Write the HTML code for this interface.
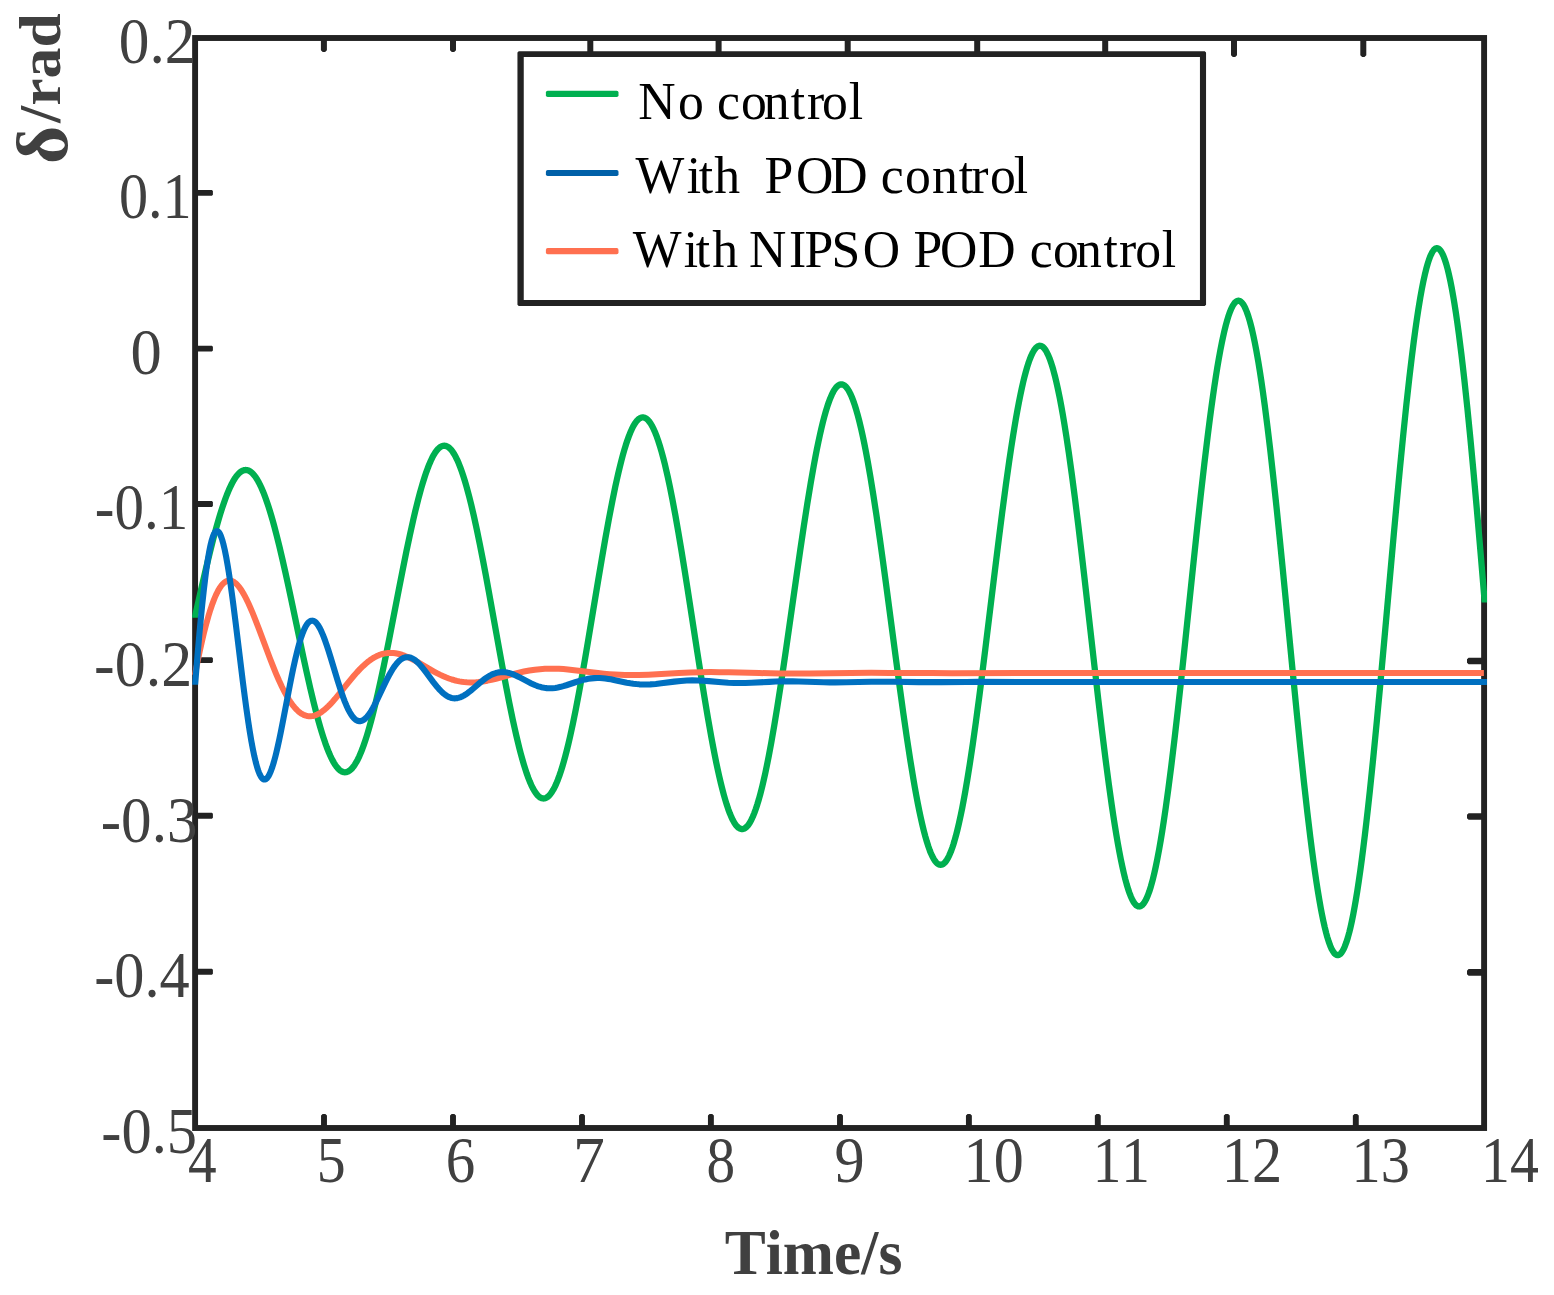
<!DOCTYPE html>
<html lang="en">
<head>
<meta charset="utf-8">
<title>Rotor angle response with and without POD control</title>
<style>
html,body{margin:0;padding:0;background:#fff}
body{width:1554px;height:1295px;overflow:hidden}
svg{display:block}
text{font-family:"Liberation Serif","DejaVu Serif",serif;font-kerning:none;font-variant-ligatures:none}
.tk{font-size:65px;fill:#404040}
.ttl{font-weight:bold;fill:#404040}
.lg{font-size:51.7px;fill:#000;white-space:pre}
</style>
</head>
<body>
<svg width="1554" height="1295" viewBox="0 0 1554 1295">
<rect width="1554" height="1295" fill="#fff"/>
<!-- axes frame -->
<rect x="195.1" y="38" width="1289" height="1090" fill="none" stroke="#222222" stroke-width="5.9"/>
<path fill="#222222" d="M322.65 1113.9L325.35 1113.9L326.95 1115.5L326.95 1128L321.05 1128L321.05 1115.5ZM451.65 1113.9L454.35 1113.9L455.95 1115.5L455.95 1128L450.05 1128L450.05 1115.5ZM580.65 1113.9L583.35 1113.9L584.95 1115.5L584.95 1128L579.05 1128L579.05 1115.5ZM709.55 1113.9L712.25 1113.9L713.85 1115.5L713.85 1128L707.95 1128L707.95 1115.5ZM838.65 1113.9L841.35 1113.9L842.95 1115.5L842.95 1128L837.05 1128L837.05 1115.5ZM967.55 1113.9L970.25 1113.9L971.85 1115.5L971.85 1128L965.95 1128L965.95 1115.5ZM1096.45 1113.9L1099.15 1113.9L1100.75 1115.5L1100.75 1128L1094.85 1128L1094.85 1115.5ZM1225.45 1113.9L1228.15 1113.9L1229.75 1115.5L1229.75 1128L1223.85 1128L1223.85 1115.5ZM1354.45 1113.9L1357.15 1113.9L1358.75 1115.5L1358.75 1128L1352.85 1128L1352.85 1115.5ZM320.9 38L326.9 38L326.9 50.3L325.1 52.1L322.7 52.1L320.9 50.3ZM450 38L456 38L456 50.3L454.2 52.1L451.8 52.1L450 50.3ZM587.3 38L593.3 38L593.3 55.3L591.5 57.1L589.1 57.1L587.3 55.3ZM715.6 38L721.6 38L721.6 55.3L719.8 57.1L717.4 57.1L715.6 55.3ZM844.7 38L850.7 38L850.7 55.3L848.9 57.1L846.5 57.1L844.7 55.3ZM974.2 38L980.2 38L980.2 55.3L978.4 57.1L976 57.1L974.2 55.3ZM1102.2 38L1108.2 38L1108.2 55.3L1106.4 57.1L1104 57.1L1102.2 55.3ZM1231 38L1237 38L1237 55.3L1235.2 57.1L1232.8 57.1L1231 55.3ZM1360.3 38L1366.3 38L1366.3 55.3L1364.5 57.1L1362.1 57.1L1360.3 55.3ZM195.1 189.95L211.9 189.95L212.9 190.95L212.9 194.85L211.9 195.85L195.1 195.85ZM195.1 345.65L211.9 345.65L212.9 346.65L212.9 350.55L211.9 351.55L195.1 351.55ZM195.1 501.05L211.9 501.05L212.9 502.05L212.9 505.95L211.9 506.95L195.1 506.95ZM195.1 657.15L211.9 657.15L212.9 658.15L212.9 662.05L211.9 663.05L195.1 663.05ZM195.1 812.85L211.9 812.85L212.9 813.85L212.9 817.75L211.9 818.75L195.1 818.75ZM195.1 968.85L211.9 968.85L212.9 969.85L212.9 973.75L211.9 974.75L195.1 974.75ZM1468.6 657.65L1484.1 657.65L1484.1 664.35L1468.6 664.35L1467 662.75L1467 659.25ZM1468.6 813.15L1484.1 813.15L1484.1 819.85L1468.6 819.85L1467 818.25L1467 814.75ZM1468.6 969.05L1484.1 969.05L1484.1 975.75L1468.6 975.75L1467 974.15L1467 970.65Z"/>
<!-- response curves -->
<defs>
<clipPath id="cg"><path d="M192.15 0H1487.05V602.6H1468V1295H199.5V617.7H192.15Z"/></clipPath>
<clipPath id="cb"><path d="M192.15 0H1486.95V1295H199.5V684.8H192.15Z"/></clipPath>
<clipPath id="co"><path d="M192.15 0H1483.9V1295H199.5V676H192.15Z"/></clipPath>
</defs>
<g fill="none" stroke-linejoin="round">
<path clip-path="url(#cg)" stroke="#00B050" stroke-width="6.3" d="M194.3 619.67L201.3 588.75L205.8 569.29L209.8 552.65L213.3 538.82L215.3 531.29L216.8 525.85L218.8 518.9L220.3 513.92L222.3 507.62L223.8 503.17L225.3 498.96L226.8 495L228.8 490.13L230.3 486.79L231.8 483.74L233.3 480.98L234.3 479.3L235.3 477.76L236.8 475.7L238.3 473.95L239.8 472.52L240.8 471.74L241.8 471.1L242.8 470.61L243.3 470.42L244.3 470.14L244.8 470.06L245.8 470L246.3 470.03L247.3 470.19L247.8 470.32L248.3 470.49L249.3 470.94L249.8 471.22L250.8 471.89L252.3 473.17L253.3 474.2L254.8 476.02L255.8 477.4L257.3 479.75L258.3 481.48L259.8 484.34L261.3 487.5L262.8 490.96L263.8 493.42L265.3 497.36L266.8 501.57L268.3 506.04L269.8 510.78L271.3 515.76L272.8 520.97L274.3 526.42L276.8 535.95L279.3 546.02L282.3 558.73L285.3 572.01L287.8 583.42L290.8 597.44L303.3 656.82L306.8 672.88L310.3 688.33L313.8 702.96L315.8 710.88L317.3 716.59L318.8 722.09L320.3 727.35L321.8 732.38L323.3 737.15L325.3 743.1L326.8 747.24L328.8 752.31L330.3 755.77L331.3 757.9L332.3 759.89L333.8 762.61L335.3 765.01L336.8 767.07L337.8 768.26L338.8 769.29L340.3 770.56L341.3 771.21L341.8 771.48L342.8 771.9L343.3 772.05L344.3 772.23L344.8 772.27L345.8 772.21L346.3 772.13L346.8 772L347.8 771.64L348.3 771.39L349.3 770.79L350.3 770.03L351.8 768.6L353.3 766.82L354.8 764.69L356.3 762.22L357.8 759.41L359.3 756.27L360.8 752.81L362.3 749.03L363.8 744.93L365.3 740.54L366.8 735.85L368.3 730.87L369.8 725.63L371.3 720.12L372.8 714.37L375.3 704.26L377.8 693.55L380.8 680L383.8 665.8L386.3 653.57L389.3 638.51L399.3 587.08L402.8 569.29L406.3 551.97L409.8 535.34L413.3 519.6L415.3 511.08L416.8 504.95L418.3 499.05L419.8 493.4L421.3 488.01L422.8 482.9L424.8 476.53L426.3 472.1L427.8 467.99L429.3 464.2L430.8 460.74L432.3 457.62L433.8 454.86L435.3 452.44L436.8 450.39L438.3 448.71L439.3 447.79L439.8 447.4L440.8 446.73L441.3 446.46L442.3 446.05L442.8 445.9L443.8 445.74L444.3 445.73L445.3 445.82L445.8 445.93L446.3 446.09L447.3 446.52L448.3 447.13L448.8 447.5L449.8 448.36L451.3 449.96L452.8 451.94L454.3 454.3L455.8 457.02L457.3 460.11L458.8 463.56L460.3 467.35L461.8 471.49L463.3 475.97L464.8 480.76L466.3 485.88L467.8 491.29L469.3 497L471.3 505.05L473.8 515.76L476.8 529.49L479.8 544.06L482.8 559.34L485.8 575.19L488.8 591.49L498.8 647.06L502.3 666.25L505.8 684.92L509.3 702.83L512.8 719.77L514.8 728.92L516.3 735.51L517.8 741.84L519.3 747.9L520.8 753.68L522.3 759.15L523.8 764.32L525.3 769.16L526.8 773.67L528.3 777.82L529.8 781.62L531.3 785.06L532.8 788.12L534.3 790.79L535.8 793.08L537.3 794.97L538.3 796.01L538.8 796.46L539.8 797.23L540.3 797.55L541.3 798.04L541.8 798.22L542.8 798.44L543.3 798.48L544.3 798.43L544.8 798.34L545.8 798.01L546.3 797.77L547.3 797.17L547.8 796.8L548.8 795.92L549.3 795.41L550.3 794.26L551.8 792.19L553.3 789.72L554.8 786.84L556.3 783.58L557.8 779.93L559.3 775.89L560.8 771.49L562.3 766.72L563.8 761.6L565.3 756.13L566.8 750.34L568.3 744.23L570.3 735.61L572.8 724.12L575.8 709.37L578.8 693.71L582.3 674.46L584.8 660.19L587.8 642.63L598.3 579.61L601.8 558.91L605.3 538.79L608.8 519.5L612.3 501.29L615.3 486.7L616.8 479.81L618.3 473.21L619.8 466.91L621.3 460.93L622.8 455.29L624.3 450L625.8 445.07L627.3 440.51L628.8 436.33L630.3 432.55L631.8 429.17L633.3 426.2L634.8 423.66L636.3 421.54L637.3 420.36L637.8 419.85L638.8 418.97L639.3 418.6L640.3 418.01L640.8 417.79L641.8 417.5L642.3 417.42L643.3 417.43L643.8 417.5L644.8 417.81L645.3 418.03L646.3 418.63L646.8 419L647.8 419.9L648.3 420.42L649.3 421.62L650.8 423.77L652.3 426.36L653.8 429.39L655.3 432.84L656.8 436.71L658.3 441L659.8 445.69L661.3 450.77L663.3 458.14L664.8 464.09L666.3 470.41L667.8 477.06L669.8 486.44L672.3 498.93L675.3 514.94L678.3 531.93L681.3 549.75L684.3 568.24L687.3 587.25L697.3 652.11L700.8 674.51L704.3 696.3L707.8 717.22L711.3 737L713.3 747.69L714.8 755.39L716.3 762.79L717.8 769.87L719.3 776.62L720.8 783.02L722.3 789.06L723.8 794.72L725.3 799.99L726.8 804.85L728.3 809.3L729.8 813.32L731.3 816.9L732.8 820.03L734.3 822.71L735.8 824.93L736.8 826.15L737.3 826.68L738.3 827.59L739.3 828.28L739.8 828.55L740.8 828.92L741.3 829.03L742.3 829.08L742.8 829.03L743.8 828.76L744.3 828.55L745.3 827.96L745.8 827.58L746.8 826.67L747.3 826.14L748.3 824.91L749.8 822.66L751.3 819.95L752.8 816.76L754.3 813.11L755.8 809.01L757.3 804.46L758.8 799.48L760.3 794.06L762.3 786.2L763.8 779.83L765.3 773.08L766.8 765.96L768.8 755.91L771.3 742.51L774.3 725.32L777.3 707.06L780.8 684.61L783.3 667.96L786.3 647.47L796.8 573.93L800.3 549.77L803.8 526.28L807.3 503.75L810.8 482.47L813.8 465.44L815.3 457.38L816.8 449.67L818.3 442.31L819.8 435.33L821.3 428.73L822.8 422.55L824.3 416.78L825.8 411.44L827.3 406.56L828.8 402.13L830.3 398.18L831.8 394.7L833.3 391.72L834.8 389.23L835.8 387.85L836.3 387.25L837.3 386.21L838.3 385.4L838.8 385.08L839.8 384.61L840.3 384.46L841.3 384.34L841.8 384.37L842.8 384.6L843.3 384.8L844.3 385.37L844.8 385.75L845.8 386.67L846.3 387.21L847.3 388.48L847.8 389.2L848.8 390.81L850.3 393.66L851.8 397.01L853.3 400.86L854.8 405.2L856.3 410.03L857.8 415.33L859.3 421.1L861.3 429.48L862.8 436.28L864.3 443.5L865.8 451.13L867.8 461.9L870.3 476.26L873.3 494.72L876.3 514.35L879.8 538.51L882.8 560.09L885.8 582.27L895.8 657.96L899.8 687.79L903.3 713.11L906.8 737.36L910.3 760.25L913.3 778.55L914.8 787.2L916.3 795.47L917.8 803.36L919.3 810.84L920.8 817.9L922.3 824.52L923.8 830.68L925.3 836.37L926.8 841.57L928.3 846.28L929.8 850.47L930.8 852.98L932.3 856.3L933.8 859.08L934.8 860.64L935.3 861.32L936.3 862.51L937.3 863.45L937.8 863.83L938.8 864.4L939.3 864.6L939.8 864.73L940.3 864.79L940.8 864.8L941.3 864.74L941.8 864.62L942.3 864.44L943.3 863.88L943.8 863.51L944.8 862.59L945.3 862.03L946.3 860.73L946.8 859.98L947.8 858.31L949.3 855.34L950.8 851.82L952.3 847.75L953.3 844.75L954.3 841.51L955.8 836.21L957.3 830.41L958.8 824.1L960.8 814.94L962.3 807.52L963.8 799.66L965.3 791.35L967.3 779.64L969.8 764.02L972.8 743.98L975.8 722.68L979.3 696.49L982.3 673.13L985.3 649.13L994.8 571.42L998.8 539.14L1002.3 511.71L1005.8 485.41L1009.3 460.56L1011.3 447.14L1012.8 437.48L1014.3 428.2L1015.8 419.32L1017.3 410.87L1018.8 402.86L1020.3 395.3L1021.8 388.23L1023.3 381.65L1024.3 377.55L1025.8 371.83L1027.3 366.65L1028.8 362.02L1029.8 359.24L1031.3 355.55L1032.8 352.44L1033.8 350.69L1034.3 349.91L1035.3 348.56L1036.3 347.47L1036.8 347.02L1037.8 346.33L1038.3 346.09L1038.8 345.91L1039.3 345.8L1039.8 345.76L1040.3 345.79L1040.8 345.88L1041.3 346.04L1042.3 346.57L1042.8 346.93L1043.8 347.86L1044.3 348.43L1045.3 349.76L1045.8 350.53L1046.8 352.26L1048.3 355.37L1049.8 359.06L1051.3 363.35L1052.3 366.53L1053.3 369.96L1054.8 375.58L1056.3 381.75L1057.8 388.47L1059.8 398.24L1061.3 406.16L1062.8 414.57L1064.3 423.46L1066.3 436.01L1068.8 452.76L1071.8 474.28L1074.8 497.18L1078.3 525.36L1081.3 550.53L1084.3 576.4L1094.3 664.73L1098.3 699.56L1101.8 729.12L1105.3 757.44L1108.8 784.17L1111.8 805.55L1113.3 815.65L1114.8 825.32L1116.3 834.54L1117.8 843.28L1119.3 851.53L1120.8 859.27L1122.3 866.47L1123.8 873.13L1125.3 879.21L1126.8 884.72L1128.3 889.63L1129.3 892.57L1130.8 896.46L1132.3 899.73L1133.3 901.55L1133.8 902.36L1134.8 903.76L1135.8 904.87L1136.3 905.32L1137.3 905.99L1137.8 906.22L1138.3 906.38L1138.8 906.47L1139.3 906.48L1139.8 906.42L1140.3 906.28L1140.8 906.08L1141.3 905.79L1141.8 905.44L1142.3 905.01L1143.3 903.94L1143.8 903.3L1144.8 901.79L1145.3 900.93L1146.3 898.99L1147.8 895.53L1149.3 891.44L1150.8 886.72L1151.8 883.22L1152.8 879.45L1154.3 873.29L1155.8 866.53L1157.3 859.18L1159.3 848.51L1160.8 839.87L1162.3 830.7L1163.8 821.03L1165.8 807.37L1168.3 789.17L1171.3 765.8L1174.3 740.96L1177.8 710.41L1180.8 683.15L1183.8 655.16L1193.8 559.72L1197.3 526.79L1200.8 494.77L1204.3 464.05L1207.8 435.03L1209.8 419.35L1211.3 408.07L1212.8 397.23L1214.3 386.86L1215.8 376.98L1217.3 367.61L1218.8 358.78L1220.3 350.51L1221.8 342.82L1222.8 338.02L1224.3 331.33L1225.8 325.27L1227.3 319.85L1228.3 316.59L1229.8 312.27L1231.3 308.62L1232.3 306.56L1232.8 305.65L1233.8 304.06L1234.8 302.77L1235.3 302.25L1235.8 301.8L1236.3 301.43L1236.8 301.14L1237.3 300.93L1237.8 300.79L1238.3 300.74L1238.8 300.76L1239.3 300.86L1239.8 301.04L1240.3 301.31L1240.8 301.64L1241.3 302.06L1242.3 303.13L1242.8 303.79L1243.8 305.33L1244.3 306.22L1245.3 308.24L1246.8 311.84L1248.3 316.14L1249.8 321.12L1250.8 324.82L1251.8 328.81L1253.3 335.35L1254.8 342.54L1256.3 350.36L1258.3 361.74L1259.8 370.97L1261.3 380.77L1262.8 391.13L1264.8 405.76L1267.3 425.28L1270.3 450.38L1273.3 477.08L1276.8 509.95L1279.8 539.31L1282.8 569.5L1292.8 672.58L1296.8 713.23L1300.3 747.74L1303.8 780.81L1307.3 812.03L1310.3 837.01L1311.8 848.81L1313.3 860.11L1314.8 870.88L1316.3 881.1L1317.8 890.74L1319.3 899.79L1320.8 908.21L1321.8 913.48L1323.3 920.82L1324.8 927.49L1326.3 933.48L1327.3 937.07L1328.8 941.88L1330.3 945.95L1331.3 948.26L1331.8 949.29L1332.8 951.1L1333.8 952.58L1334.3 953.2L1334.8 953.72L1335.3 954.17L1335.8 954.53L1336.3 954.8L1336.8 954.99L1337.3 955.1L1337.8 955.12L1338.3 955.06L1338.8 954.91L1339.3 954.67L1339.8 954.35L1340.3 953.95L1340.8 953.45L1341.3 952.88L1342.3 951.47L1342.8 950.64L1343.8 948.73L1344.8 946.47L1346.3 942.46L1347.8 937.71L1349.3 932.21L1350.3 928.15L1351.8 921.44L1353.3 914.04L1354.8 905.94L1355.8 900.16L1357.3 890.95L1358.8 881.09L1360.3 870.61L1361.8 859.53L1363.3 847.87L1364.8 835.66L1366.3 822.92L1367.8 809.69L1369.8 791.31L1373.3 757.37L1376.8 721.49L1380.3 684.11L1384.3 640.14L1393.8 534.3L1396.8 501.62L1399.8 469.82L1403.3 434.21L1406.3 405.29L1409.3 378.13L1411.8 357.03L1413.8 341.25L1415.3 330.1L1416.8 319.57L1418.3 309.68L1420.3 297.53L1421.8 289.23L1423.3 281.65L1424.8 274.8L1426.3 268.7L1427.8 263.38L1429.3 258.83L1430.3 256.24L1430.8 255.08L1431.8 253.02L1432.3 252.13L1433.3 250.62L1433.8 250L1434.3 249.47L1434.8 249.03L1435.3 248.68L1435.8 248.43L1436.3 248.26L1436.8 248.19L1437.3 248.21L1437.8 248.32L1438.3 248.53L1438.8 248.83L1439.3 249.21L1439.8 249.69L1440.8 250.93L1441.3 251.69L1442.3 253.48L1443.3 255.63L1443.8 256.84L1444.8 259.54L1446.3 264.26L1447.8 269.79L1448.8 273.92L1450.3 280.76L1451.8 288.37L1453.3 296.74L1454.3 302.73L1455.8 312.32L1457.3 322.62L1458.8 333.6L1461.3 353.35L1462.8 366.04L1464.3 379.32L1467.3 407.54L1470.3 437.77L1473.3 469.75L1476.8 508.88L1480.8 555.45L1485.6 612.91"/>
<path clip-path="url(#co)" stroke="#FF7050" stroke-width="6" d="M194.9 675.11L197.4 662.5L199.4 652.9L201.9 641.58L203.9 633.12L206.4 623.35L208.4 616.21L210.4 609.69L212.4 603.82L213.9 599.84L214.9 597.4L215.9 595.12L216.9 593.01L217.9 591.07L218.9 589.3L219.9 587.69L220.9 586.25L221.9 584.97L222.9 583.86L223.9 582.91L224.9 582.12L225.9 581.5L226.9 581.03L227.9 580.72L228.4 580.62L229.4 580.53L230.4 580.6L231.4 580.81L232.4 581.17L233.4 581.66L234.4 582.29L235.4 583.06L236.4 583.95L237.4 584.98L238.4 586.12L239.4 587.38L240.4 588.75L241.9 591.01L243.9 594.38L244.9 596.21L246.4 599.11L248.4 603.27L250.4 607.71L252.4 612.4L254.9 618.56L258.9 628.9L269.9 658.23L272.9 665.92L275.9 673.29L278.9 680.25L281.9 686.72L283.4 689.75L284.9 692.64L287.4 697.12L288.9 699.59L290.4 701.9L291.9 704.05L292.9 705.38L294.4 707.24L295.4 708.38L296.9 709.94L297.9 710.89L298.9 711.76L300.4 712.91L301.9 713.9L303.4 714.7L304.4 715.15L305.9 715.67L307.4 716.02L308.9 716.22L309.9 716.25L310.9 716.22L311.9 716.13L312.9 715.96L313.9 715.73L314.9 715.43L315.9 715.08L317.4 714.43L319.4 713.36L320.4 712.75L321.9 711.73L323.9 710.2L326.4 708.04L328.4 706.14L330.4 704.09L332.4 701.93L334.9 699.08L339.4 693.67L347.4 683.67L350.9 679.36L353.9 675.79L356.9 672.38L359.9 669.17L362.9 666.19L365.9 663.47L368.4 661.42L369.9 660.29L371.4 659.23L373.9 657.65L376.4 656.3L378.9 655.17L381.4 654.27L383.9 653.6L386.4 653.15L387.9 652.98L389.4 652.89L391.4 652.89L393.4 653.01L395.4 653.26L397.9 653.73L399.9 654.23L402.4 654.99L404.4 655.7L406.9 656.71L410.9 658.55L415.4 660.89L419.9 663.42L431.4 670.1L434.4 671.77L437.4 673.36L440.4 674.86L443.4 676.26L446.4 677.53L448.9 678.48L451.9 679.5L454.4 680.24L456.9 680.87L459.4 681.4L461.9 681.82L464.4 682.13L466.9 682.34L469.9 682.46L473.9 682.41L475.9 682.29L478.4 682.07L482.9 681.49L487.4 680.68L491.4 679.82L495.9 678.73L511.9 674.43L517.9 672.9L523.9 671.55L529.4 670.51L534.9 669.69L539.9 669.15L544.9 668.81L550.4 668.65L554.4 668.68L558.9 668.84L563.4 669.11L567.9 669.49L576.4 670.4L597.9 673.06L603.9 673.7L609.4 674.19L614.9 674.59L619.9 674.85L624.9 675.02L630.4 675.1L638.9 675.03L648.4 674.71L656.9 674.29L678.9 673.02L690.4 672.5L700.4 672.21L710.9 672.09L719.4 672.13L728.9 672.27L759.4 673.06L770.9 673.31L780.9 673.44L791.4 673.5L809.4 673.41L850.9 672.93L871.4 672.84L889.4 672.88L931.9 673.11L951.9 673.15L1031.9 673L1111.9 673.07L1485 673.05"/>
<path clip-path="url(#cb)" stroke="#0070C0" stroke-width="6.1" d="M194.8 688.21L197.8 651.94L199.3 634.92L200.8 618.85L202.3 603.85L203.8 590.05L205.3 577.54L206.3 569.97L207.8 559.8L209.3 551.13L210.3 546.2L210.8 544L211.8 540.11L212.8 536.92L213.3 535.58L213.8 534.43L214.3 533.44L214.8 532.63L215.3 531.99L215.8 531.53L216.3 531.23L216.8 531.11L217.3 531.13L217.8 531.32L218.3 531.66L218.8 532.17L219.3 532.84L219.8 533.67L220.3 534.66L220.8 535.8L221.3 537.09L222.3 540.11L223.3 543.7L224.8 550.1L226.3 557.63L227.8 566.17L228.8 572.38L230.3 582.38L231.8 593.08L233.3 604.37L235.8 624.15L242.8 681.29L244.8 696.85L246.3 708L248.3 721.98L249.8 731.69L251.3 740.64L252.8 748.77L254.3 756.03L255.8 762.36L257.3 767.73L258.3 770.76L258.8 772.1L259.8 774.46L260.3 775.48L261.3 777.16L261.8 777.83L262.3 778.4L262.8 778.85L263.3 779.18L263.8 779.41L264.3 779.53L264.8 779.52L265.3 779.39L265.8 779.16L266.3 778.82L266.8 778.38L267.3 777.83L268.3 776.44L268.8 775.6L269.8 773.63L270.8 771.29L272.3 767.14L273.8 762.27L275.3 756.75L276.3 752.74L277.8 746.3L279.3 739.41L280.8 732.15L283.3 719.45L289.8 685.46L291.8 675.43L293.3 668.22L295.3 659.16L296.8 652.85L298.3 647.01L299.8 641.68L301.3 636.9L302.8 632.7L304.3 629.11L305.3 627.07L305.8 626.15L306.8 624.53L307.3 623.82L307.8 623.19L308.8 622.14L309.3 621.72L310.3 621.09L310.8 620.88L311.3 620.75L311.8 620.68L312.3 620.67L312.8 620.73L313.3 620.85L314.3 621.3L314.8 621.62L315.8 622.46L316.3 622.97L317.3 624.16L318.3 625.6L319.8 628.16L321.3 631.18L322.8 634.61L323.8 637.11L325.3 641.14L326.8 645.46L328.3 650.02L330.8 658.01L337.8 681.13L339.8 687.44L341.3 691.96L343.3 697.63L344.8 701.57L346.3 705.21L347.8 708.52L349.3 711.48L350.8 714.06L352.3 716.25L353.8 718.05L354.8 719.02L355.3 719.44L356.3 720.14L356.8 720.42L357.8 720.85L358.3 721L359.3 721.16L360.3 721.14L360.8 721.07L361.8 720.79L362.3 720.59L363.3 720.07L363.8 719.75L364.8 718.99L365.8 718.08L367.3 716.46L368.8 714.54L370.3 712.36L371.3 710.77L372.8 708.2L374.3 705.46L375.8 702.55L378.3 697.47L385.3 682.74L387.3 678.72L388.8 675.84L390.8 672.22L392.3 669.71L393.8 667.39L395.3 665.28L396.8 663.39L398.3 661.74L399.8 660.34L401.3 659.19L402.8 658.3L403.8 657.85L405.3 657.39L406.8 657.18L408.3 657.22L409.8 657.48L410.8 657.78L412.3 658.43L413.8 659.28L415.3 660.34L416.8 661.59L418.3 663L419.3 664.03L420.8 665.68L422.3 667.46L423.8 669.32L426.3 672.6L433.3 682.07L435.3 684.65L436.8 686.5L438.8 688.82L440.3 690.43L441.8 691.91L443.3 693.26L444.8 694.47L446.3 695.52L447.8 696.41L449.3 697.13L450.8 697.69L451.8 697.97L453.3 698.25L454.8 698.36L455.8 698.31L457.3 698.11L458.3 697.89L459.8 697.43L460.8 697.05L462.3 696.37L463.8 695.57L465.3 694.66L467.8 692.94L470.8 690.6L473.3 688.5L479.8 682.87L483.3 680.02L485.3 678.52L486.8 677.48L488.3 676.51L489.8 675.62L491.3 674.83L492.8 674.13L494.3 673.54L495.8 673.04L497.3 672.65L498.8 672.37L500.3 672.18L501.8 672.1L503.3 672.12L504.8 672.23L507.3 672.6L508.8 672.94L510.3 673.37L511.8 673.86L513.3 674.42L515.8 675.48L518.8 676.92L527.8 681.67L531.3 683.43L534.8 685L536.8 685.78L538.3 686.31L541.3 687.18L542.8 687.53L544.3 687.81L546.8 688.13L548.3 688.24L549.8 688.28L552.3 688.21L555.3 687.91L557.8 687.5L560.8 686.83L563.3 686.16L566.3 685.25L575.3 682.24L578.8 681.12L582.3 680.12L585.3 679.39L588.3 678.81L591.3 678.38L594.3 678.11L597.3 678.01L599.8 678.05L602.8 678.24L605.3 678.5L608.3 678.92L610.8 679.34L613.8 679.92L626.8 682.64L630.3 683.26L633.3 683.71L636.3 684.07L639.3 684.33L641.8 684.47L644.8 684.53L647.3 684.51L650.3 684.39L652.8 684.23L655.8 683.97L661.3 683.33L674.3 681.61L680.8 680.92L683.8 680.69L686.8 680.52L692.3 680.39L697.8 680.48L703.3 680.74L708.8 681.15L721.8 682.24L728.3 682.68L734.3 682.93L739.8 683.02L745.3 682.97L751.3 682.78L769.3 681.85L775.8 681.57L781.8 681.41L787.3 681.35L792.8 681.38L798.8 681.5L823.8 682.28L829.8 682.38L835.3 682.41L846.3 682.32L871.3 681.82L882.8 681.74L893.8 681.8L918.8 682.11L930.3 682.17L941.3 682.13L966.3 681.93L977.8 681.89L1025.3 682.07L1072.8 681.96L1120.3 682.03L1167.8 681.98L1488 682"/>
</g>
<!-- legend -->
<path fill="#222222" fill-rule="evenodd" d="M518.75 51.15L1204.75 51.15L1206.05 52.45L1206.05 304.75L1204.75 306.05L518.75 306.05L517.45 304.75L517.45 52.45ZM523.75 57.1H1199.95V299.95H523.75Z"/>
<rect x="545.9" y="90.8" width="72.6" height="6.2" rx="1.8" fill="#00B050"/>
<rect x="545.9" y="169.9" width="72.6" height="6.2" rx="1.8" fill="#0060A8"/>
<rect x="545.9" y="248.1" width="72.6" height="6.2" rx="1.8" fill="#FF7050"/>
<text class="lg" transform="translate(0 118.5) scale(1 1.04)" y="0" x="638.2 678.1 703.9 716.9 741.1 763.8 790.8 807.1 822.1 848.8">No control</text>
<text class="lg" transform="translate(0 192.6) scale(1 1.04)" y="0" x="635.6 686.8 698.7 714.2 740 752.9 764.4 795.9 830.2 867.6 880.7 905 931.9 958.7 971.2 990.1 1013.8">With  POD control</text>
<text class="lg" transform="translate(0 266.7) scale(1 1.04)" y="0" x="632.7 683.7 695.7 712.2 738 749.1 789 804.5 831.4 862.8 900.2 913.4 939.9 978.2 1015.5 1029.8 1053.1 1075.9 1103.6 1119.1 1135.2 1161.8">With NIPSO POD control</text>
<!-- tick labels -->
<text class="tk" transform="translate(118.76 62.6) scale(0.944 1)">0.2</text>
<text class="tk" transform="translate(118.88 218) scale(0.895 1)">0.1</text>
<text class="tk" transform="translate(130.52 374) scale(0.962 1)">0</text>
<text class="tk" transform="translate(94.81 529.2) scale(0.908 1)">-0.1</text>
<text class="tk" transform="translate(94.1 686) scale(0.953 1)">-0.2</text>
<text class="tk" transform="translate(100.73 841.8) scale(0.941 1)">-0.3</text>
<text class="tk" transform="translate(94.16 997.4) scale(0.928 1)">-0.4</text>
<text class="tk" transform="translate(101.25 1152.9) scale(0.931 1)">-0.5</text>
<text class="tk" transform="translate(187.99 1181.8) scale(0.88 1)">4</text>
<text class="tk" transform="translate(316.84 1181.8) scale(0.89 1)">5</text>
<text class="tk" transform="translate(445.77 1181.8) scale(0.907 1)">6</text>
<text class="tk" transform="translate(572.94 1181.8) scale(0.98 1)">7</text>
<text class="tk" transform="translate(706.4 1181.8) scale(0.88 1)">8</text>
<text class="tk" transform="translate(834.46 1181.8) scale(0.926 1)">9</text>
<text class="tk" transform="translate(963.62 1181.8) scale(0.924 1)">10</text>
<text class="tk" transform="translate(1092.65 1181.8) scale(0.88 1)">11</text>
<text class="tk" transform="translate(1221.79 1181.8) scale(0.93 1)">12</text>
<text class="tk" transform="translate(1351.58 1181.8) scale(0.897 1)">13</text>
<text class="tk" transform="translate(1481.02 1181.8) scale(0.889 1)">14</text>
<!-- axis titles -->
<text class="ttl" font-size="63.5" transform="translate(724.8 1273.7) scale(0.968 1)">Time/s</text>
<clipPath id="cy"><rect x="0" y="0" width="90" height="126"/></clipPath>
<g clip-path="url(#cy)"><text class="ttl" font-size="61.7" transform="translate(60.2 164) rotate(-90) scale(1 0.974)" x="0 41.1">δ/rad</text></g>
<text class="ttl" font-size="73.4" transform="translate(60.2 164) rotate(-90) scale(1 0.974)" y="7.4">δ</text>
</svg>
</body>
</html>
